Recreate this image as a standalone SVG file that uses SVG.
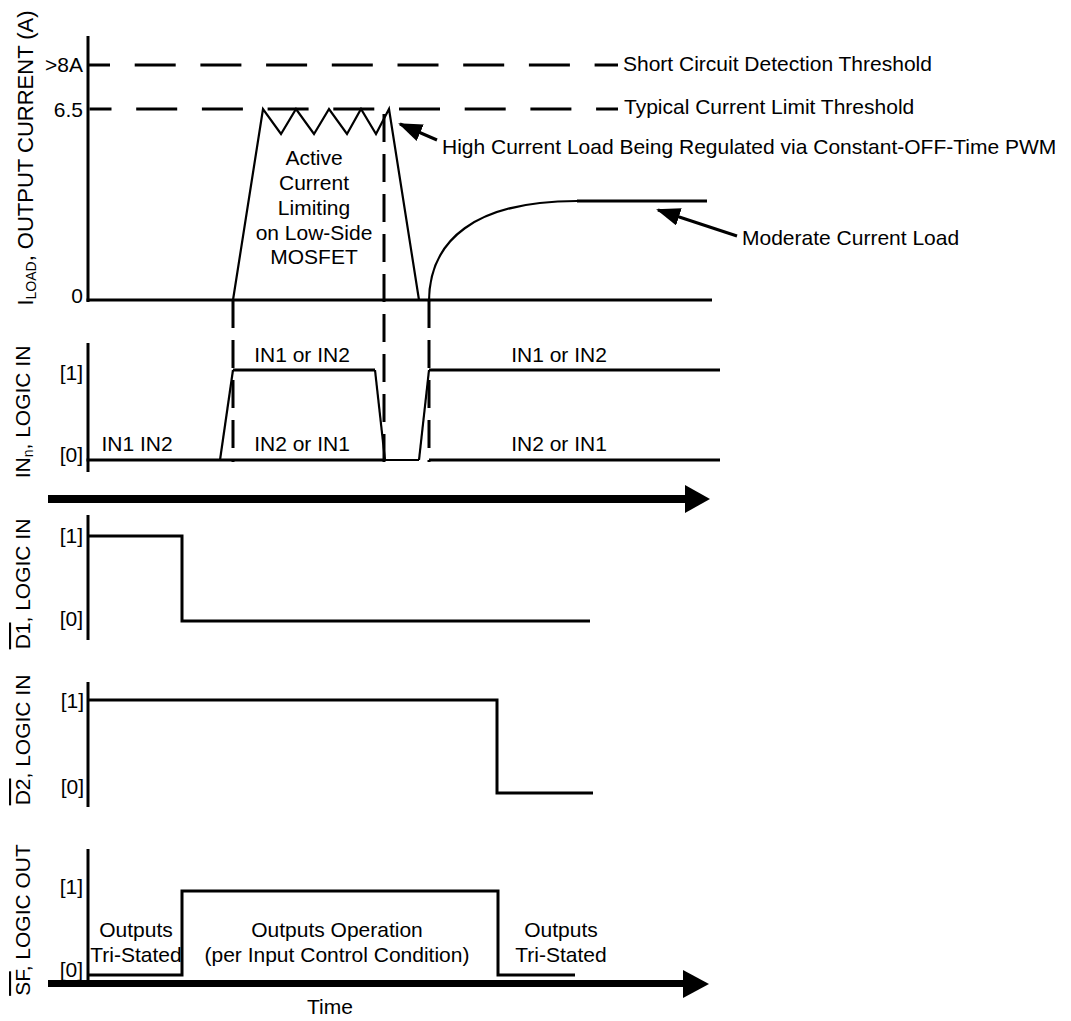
<svg xmlns="http://www.w3.org/2000/svg" width="1071" height="1021" viewBox="0 0 1071 1021">
<style>
text{font-family:"Liberation Sans",Arial,sans-serif;font-size:21px;fill:#000}
.mid{text-anchor:middle}
.end{text-anchor:end}
.ax{stroke:#000;stroke-width:3;fill:none}
.w{stroke:#000;stroke-width:3;fill:none}
.thin{stroke:#000;stroke-width:2.2;fill:none;stroke-linejoin:miter}
.hd{stroke:#000;stroke-width:3;fill:none;stroke-dasharray:41 24.7;stroke-dashoffset:19}
.vd{stroke:#000;stroke-width:3;fill:none;stroke-dasharray:28 12}
.ann{stroke:#000;stroke-width:3;fill:none;marker-end:url(#ah)}
.ov{text-decoration:overline}
</style>
<defs>
<marker id="ah" viewBox="0 0 24 18" refX="22" refY="9" markerWidth="24" markerHeight="18" markerUnits="userSpaceOnUse" orient="auto">
<path d="M0,0 L24,9 L0,18 z" fill="#000"/>
</marker>
</defs>
<rect width="1071" height="1021" fill="#fff"/>

<g id="panel-iload">
<text transform="translate(33,158) rotate(-90)" class="mid" style="font-size:22px">I<tspan font-size="14" dy="3">LOAD</tspan><tspan dy="-3">, OUTPUT CURRENT (A)</tspan></text>
<line class="ax" x1="88" y1="36" x2="88" y2="302"/>
<line class="ax" x1="86.5" y1="300" x2="712" y2="300"/>
<text class="end" x="83" y="72">&gt;8A</text>
<text class="end" x="83" y="117">6.5</text>
<text class="end" x="83" y="303">0</text>
<line class="hd" x1="88" y1="65" x2="618" y2="65"/>
<line class="hd" x1="89.5" y1="109" x2="618" y2="109"/>
<polyline class="thin" points="233,300 263,109 281,134 296,109 314,134 329,109 347,134 361,109 376,134 389,109 419,300"/>
<path class="thin" d="M429,302 C429,240 475,201 577,201"/>
<line class="w" x1="577" y1="201" x2="707" y2="201"/>
<text class="mid" x="314" y="165">Active</text>
<text class="mid" x="314" y="190">Current</text>
<text class="mid" x="314" y="215">Limiting</text>
<text class="mid" x="314" y="240">on Low-Side</text>
<text class="mid" x="314" y="264">MOSFET</text>
<text x="623" y="71">Short Circuit Detection Threshold</text>
<text x="624" y="114">Typical Current Limit Threshold</text>
<text x="442" y="154">High Current Load Being Regulated via Constant-OFF-Time PWM</text>
<text x="742" y="245">Moderate Current Load</text>
</g>

<g id="panel-in">
<text transform="translate(30,412) rotate(-90)" class="mid">IN<tspan font-size="14" dy="3">n</tspan><tspan dy="-3">, LOGIC IN</tspan></text>
<line class="ax" x1="88" y1="343" x2="88" y2="472"/>
<text class="end" x="83" y="380">[1]</text>
<text class="end" x="83" y="462">[0]</text>
<line class="w" x1="86.5" y1="460" x2="385" y2="460"/>
<line class="thin" x1="385" y1="460" x2="419" y2="460" stroke-width="1.5"/>
<line class="w" x1="429" y1="460" x2="720" y2="460"/>
<line class="w" x1="233" y1="370" x2="375" y2="370"/>
<line class="w" x1="429" y1="370" x2="720" y2="370"/>
<polyline class="thin" points="220,460 233,370"/>
<polyline class="thin" points="375,370 385,460"/>
<polyline class="thin" points="419,460 429,370"/>
<text class="mid" x="137" y="451">IN1 IN2</text>
<text class="mid" x="302" y="362">IN1 or IN2</text>
<text class="mid" x="302" y="451">IN2 or IN1</text>
<text class="mid" x="559" y="362">IN1 or IN2</text>
<text class="mid" x="559" y="451">IN2 or IN1</text>
</g>

<g id="panel-d1">
<text transform="translate(30,584) rotate(-90)" class="mid"><tspan class="ov">D1</tspan>, LOGIC IN</text>
<line class="ax" x1="88" y1="515" x2="88" y2="640"/>
<text class="end" x="83" y="543">[1]</text>
<text class="end" x="83" y="626">[0]</text>
<polyline class="w" points="88,536 182,536 182,621 590,621"/>
</g>

<g id="panel-d2">
<text transform="translate(30,740) rotate(-90)" class="mid"><tspan class="ov">D2</tspan>, LOGIC IN</text>
<line class="ax" x1="88" y1="682" x2="88" y2="807"/>
<text class="end" x="84" y="708">[1]</text>
<text class="end" x="84" y="794">[0]</text>
<polyline class="w" points="88,700 497,700 497,793 593,793"/>
</g>

<g id="panel-sf">
<text transform="translate(30,920) rotate(-90)" class="mid"><tspan class="ov">SF</tspan>, LOGIC OUT</text>
<line class="ax" x1="88" y1="849" x2="88" y2="983"/>
<text class="end" x="83" y="894">[1]</text>
<text class="end" x="83" y="977">[0]</text>
<polyline class="w" points="88,975 182,975 182,891 498,891 498,975 575,975"/>
<text class="mid" x="136" y="937">Outputs</text>
<text class="mid" x="136" y="962">Tri-Stated</text>
<text class="mid" x="337" y="937">Outputs Operation</text>
<text class="mid" x="337" y="962">(per Input Control Condition)</text>
<text class="mid" x="561" y="937">Outputs</text>
<text class="mid" x="561" y="962">Tri-Stated</text>
<text class="mid" x="330" y="1014">Time</text>
</g>

<g id="connectors">
<line class="vd" x1="233" y1="300" x2="233" y2="462"/>
<line class="vd" x1="384" y1="114" x2="384" y2="462"/>
<line class="vd" x1="429" y1="300" x2="429" y2="462"/>
<line class="ann" x1="437" y1="140" x2="400" y2="124"/>
<line class="ann" x1="737" y1="236" x2="658" y2="210"/>
<line stroke="#000" stroke-width="8" x1="48" y1="499" x2="687" y2="499"/>
<polygon points="685,485 710,499 685,513" fill="#000"/>
<line stroke="#000" stroke-width="7" x1="48" y1="983.5" x2="685" y2="983.5"/>
<polygon points="683,970 709,984 683,998" fill="#000"/>
</g>
</svg>
